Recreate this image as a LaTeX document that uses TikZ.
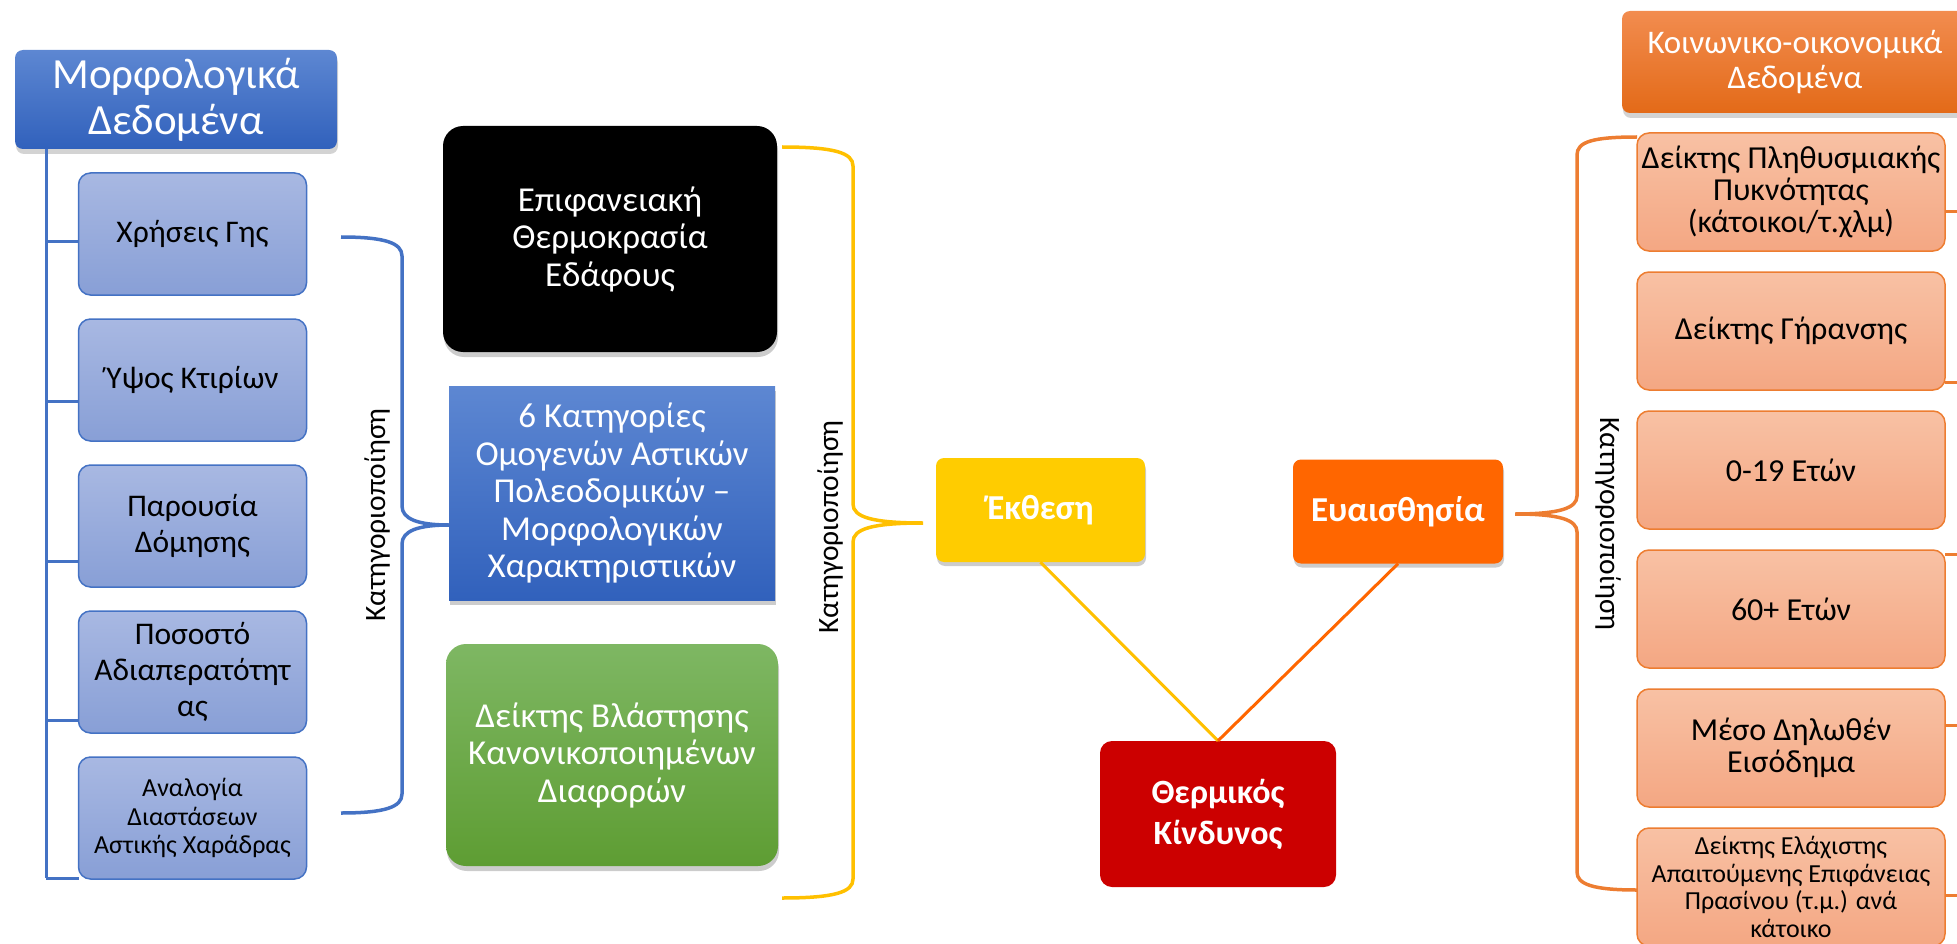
\documentclass[tikz,border=0pt]{standalone}
\usepackage{fontspec}
\setmainfont{Carlito}
\usepackage{xcolor}
\usetikzlibrary{shapes,arrows,positioning,shadows}

\definecolor{morphblue}{HTML}{4472C4}
\definecolor{morphtop}{HTML}{5D87D2}
\definecolor{morphbot}{HTML}{3161BC}
\definecolor{itemtop}{HTML}{A8B8E2}
\definecolor{itembot}{HTML}{889FD6}
\definecolor{greentop}{HTML}{7EB763}
\definecolor{greenbot}{HTML}{5E9D33}
\definecolor{expoyellow}{HTML}{FFCC00}
\definecolor{braceyellow}{HTML}{FFC000}
\definecolor{sensorange}{HTML}{FF6600}
\definecolor{riskred}{HTML}{CC0000}
\definecolor{socorange}{HTML}{ED7D31}
\definecolor{soctop}{HTML}{F28C4F}
\definecolor{socbot}{HTML}{E36A18}
\definecolor{stattop}{HTML}{F8C1A4}
\definecolor{statbot}{HTML}{F4A783}

\begin{document}
\begin{tikzpicture}[x=1pt, y=-1pt, node distance=24pt]
\useasboundingbox (0,0) rectangle (1957,944);
\clip (0,0) rectangle (1957,944);
% Define styles
\tikzstyle{header} = [rectangle, rounded corners=8pt, text=white, align=center, inner sep=0pt, drop shadow={shadow xshift=1pt, shadow yshift=-5pt, opacity=0.35}]
\tikzstyle{morphitem} = [rectangle, rounded corners=12pt, draw=morphblue, line width=1.5pt, outer sep=0pt, top color=itemtop, bottom color=itembot, minimum width=228pt, minimum height=122pt, align=center, inner sep=0pt, font=\fontsize{31.5}{36}\selectfont]
\tikzstyle{socitem} = [rectangle, rounded corners=12pt, draw=socorange, line width=1.5pt, outer sep=0pt, top color=stattop, bottom color=statbot, minimum width=308pt, minimum height=118pt, align=center, inner sep=0pt, font=\fontsize{32}{32}\selectfont]
\tikzstyle{layer} = [rectangle, rounded corners=20pt, text=white, align=center, inner sep=0pt, font=\fontsize{35}{37.5}\selectfont, drop shadow={shadow xshift=1pt, shadow yshift=-5pt, opacity=0.4}]
\tikzstyle{hazard} = [rectangle, rounded corners=8pt, text=white, align=center, inner sep=0pt, minimum width=209pt, minimum height=104pt, font=\bfseries\fontsize{35}{41}\selectfont]
\tikzstyle{catlabel} = [inner sep=0pt, font=\fontsize{29.5}{34}\selectfont]
\tikzstyle{bracket} = [line width=3.5pt]
\tikzstyle{blueline} = [line width=3pt, draw=morphblue]
\tikzstyle{socline} = [line width=3pt, draw=socorange]

% Morphological data
\node (morph) [header, top color=morphtop, bottom color=morphbot, minimum width=322pt, minimum height=99pt, font=\fontsize{43}{46}\selectfont] at (176,99.5) {Μορφολογικά\\Δεδομένα};
\node (usage) [morphitem] at (192.5,234) {Χρήσεις Γης};
\node (bheight) [morphitem, below=of usage] {Ύψος Κτιρίων};
\node (built) [morphitem, below=of bheight] {Παρουσία\\Δόμησης};
\node (imperv) [morphitem, below=of built] {Ποσοστό\\Αδιαπερατότητ\\ας};
\node (canyon) [morphitem, below=of imperv, font=\fontsize{26}{28.5}\selectfont] {Αναλογία\\Διαστάσεων\\Αστικής Χαράδρας};

% Exposure layers
\node (lst) [layer, fill=black, minimum width=334pt, minimum height=226pt] at (610,239) {Επιφανειακή\\Θερμοκρασία\\Εδάφους};
\node (lcz) [layer, rounded corners=0pt, top color=morphtop, bottom color=morphbot, minimum width=326pt, minimum height=214pt] at (612,493) {6 Κατηγορίες\\Ομογενών Αστικών\\Πολεοδομικών –\\Μορφολογικών\\Χαρακτηριστικών};
\node (ndvi) [layer, top color=greentop, bottom color=greenbot, minimum width=332pt, minimum height=222pt] at (612,755) {Δείκτης Βλάστησης\\Κανονικοποιημένων\\Διαφορών};

% Risk components
\node (expo) [hazard, fill=expoyellow, drop shadow={shadow xshift=1pt, shadow yshift=-4pt, opacity=0.4}] at (1040.5,510) {Έκθεση};
\node (sens) [hazard, fill=sensorange, minimum width=210pt, drop shadow={shadow xshift=1pt, shadow yshift=-4pt, opacity=0.4}] at (1398,511.5) {Ευαισθησία};
\node (risk) [hazard, fill=riskred, rounded corners=12pt, minimum width=236pt, minimum height=146pt, font=\bfseries\fontsize{34}{41}\selectfont] at (1218,814) {Θερμικός\\Κίνδυνος};

% Socio-economic data
\node (socio) [header, top color=soctop, bottom color=socbot, minimum width=346pt, minimum height=102pt, font=\fontsize{33}{35}\selectfont] at (1795,62) {Κοινωνικο-οικονομικά\\Δεδομένα};
\node (dens) [socitem] at (1791,192) {Δείκτης Πληθυσμιακής\\Πυκνότητας\\(κάτοικοι/τ.χλμ)};
\node (aging) [socitem, below=21pt of dens] {Δείκτης Γήρανσης};
\node (young) [socitem, below=21pt of aging] {0-19 Ετών};
\node (old) [socitem, below=21pt of young] {60+ Ετών};
\node (income) [socitem, below=21pt of old] {Μέσο Δηλωθέν\\Εισόδημα};
\node (greenarea) [socitem, below=21pt of income, font=\fontsize{26}{27.5}\selectfont] {Δείκτης Ελάχιστης\\Απαιτούμενης Επιφάνειας\\Πρασίνου (τ.μ.) ανά\\κάτοικο};

% Brace labels
\node (morphcat) [catlabel, rotate=90] at (377,515) {Κατηγοριοποίηση};
\node (expocat) [catlabel, rotate=90] at (830,527) {Κατηγοριοποίηση};
\node (senscat) [catlabel, rotate=-90] at (1608,524) {Κατηγοριοποίηση};

% Trunk of the morphological list
\coordinate (trunktop) at (morph.south -| 46,0);
\coordinate (trunkend) at (46,878);
\draw [blueline] (trunktop) -- (trunkend);
\foreach \n/\y in {usage/242, bheight/401, built/561, imperv/720, canyon/878}
  \draw [blueline] (46,\y) -- (\n.west |- 46,\y);

% Braces
\coordinate (morphtip) at (449,525);
\coordinate (expotip) at (923,523);
\coordinate (senstip) at (1515,514);
\draw [bracket, morphblue] (341,237) .. controls (385,237) and (402,243) .. (402,256) -- (402,506) .. controls (402,519) and (418,525) .. (morphtip) .. controls (418,525) and (402,531) .. (402,544) -- (402,794) .. controls (402,807) and (385,813) .. (341,813);
\draw [bracket, braceyellow] (782,147) .. controls (835,147) and (853,153) .. (853,166) -- (853,504) .. controls (853,517) and (872,523) .. (expotip) .. controls (872,523) and (853,529) .. (853,542) -- (853,879) .. controls (853,892) and (835,898) .. (782,898);
\draw [bracket, socorange] (1637,137) .. controls (1592,137) and (1577,142) .. (1577,155) -- (1577,496) .. controls (1577,508) and (1560,514) .. (senstip) .. controls (1560,514) and (1577,520) .. (1577,532) -- (1577,872) .. controls (1577,884) and (1592,890) .. (1637,890);

% Ticks towards the socio-economic trunk
\foreach \n/\y in {dens/212, aging/382, old/554, income/725, greenarea/895}
  \draw [socline] (\n.east |- 0,\y) -- (1965,\y);

% Draw links
\draw [line width=3pt, braceyellow] (expo.south) -- (risk.north);
\draw [line width=3pt, sensorange] (sens.south) -- (risk.north);
\end{tikzpicture}
\end{document}
